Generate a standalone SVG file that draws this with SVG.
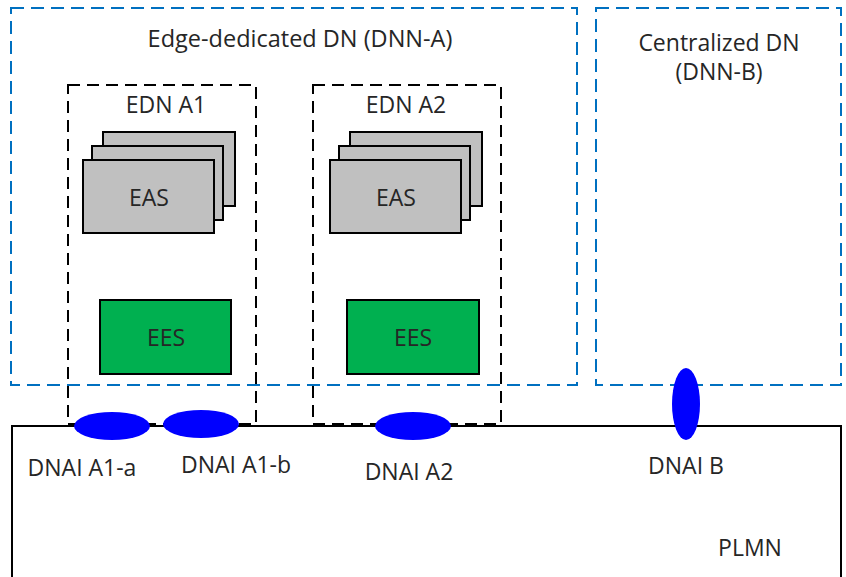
<svg xmlns="http://www.w3.org/2000/svg" width="846" height="577" viewBox="0 0 846 577">
<style>
.dn{fill:none;stroke:#0070c0;stroke-width:2;stroke-dasharray:13 7}
.edn{fill:none;stroke:#000;stroke-width:2;stroke-dasharray:12 7}
.eas{fill:#c0c0c0;stroke:#000;stroke-width:2}
.ees{fill:#00b050;stroke:#000;stroke-width:2}
.plmn{fill:none;stroke:#000;stroke-width:2}
.dnai{fill:#0000ff;stroke:none}
text{font-family:"Open Sans","DejaVu Sans",sans-serif;font-size:23px;fill:#262626;text-anchor:middle}
</style>
<rect width="846" height="577" fill="#fff"/>
<g id="dnn-a">
<rect class="dn" x="11" y="8" width="566" height="377"/>
<text x="300" y="47" style="font-size:23.5px">Edge-dedicated DN (DNN-A)</text>
</g>
<g id="dnn-b">
<rect class="dn" x="596" y="8" width="245" height="377"/>
<text x="719" y="51">Centralized DN</text>
<text x="719" y="80">(DNN-B)</text>
</g>
<g id="edn-a1">
<rect class="edn" x="68" y="85" width="188" height="339"/>
<text x="166" y="113">EDN A1</text>
</g>
<g id="edn-a2">
<rect class="edn" x="313" y="85" width="188" height="339"/>
<text x="406" y="113">EDN A2</text>
</g>
<g id="eas-a1">
<rect class="eas" x="103" y="132" width="132" height="74"/>
<rect class="eas" x="92" y="146" width="131" height="74"/>
<rect class="eas" x="83" y="160" width="131" height="73"/>
<text x="149" y="206">EAS</text>
</g>
<g id="eas-a2">
<rect class="eas" x="350" y="132" width="132" height="74"/>
<rect class="eas" x="339" y="146" width="131" height="74"/>
<rect class="eas" x="330" y="160" width="131" height="73"/>
<text x="396" y="206">EAS</text>
</g>
<g id="ees-a1">
<rect class="ees" x="100" y="300" width="131" height="74"/>
<text x="166" y="346">EES</text>
</g>
<g id="ees-a2">
<rect class="ees" x="347" y="300" width="132" height="74"/>
<text x="413" y="346">EES</text>
</g>
<g id="plmn">
<path class="plmn" d="M12 580 V426 H841 V580"/>
<text x="750" y="556">PLMN</text>
</g>
<g id="connectors">
</g>
<g id="dnai-a1-a">
<ellipse class="dnai" cx="112" cy="426" rx="38" ry="14"/>
<text x="82" y="476">DNAI A1-a</text>
</g>
<g id="dnai-a1-b">
<ellipse class="dnai" cx="201" cy="424" rx="38" ry="14"/>
<text x="236" y="473">DNAI A1-b</text>
</g>
<g id="dnai-a2">
<ellipse class="dnai" cx="413" cy="426" rx="38" ry="14"/>
<text x="409" y="480">DNAI A2</text>
</g>
<g id="dnai-b">
<ellipse class="dnai" cx="686" cy="404" rx="14" ry="36"/>
<text x="686" y="474">DNAI B</text>
</g>
</svg>
